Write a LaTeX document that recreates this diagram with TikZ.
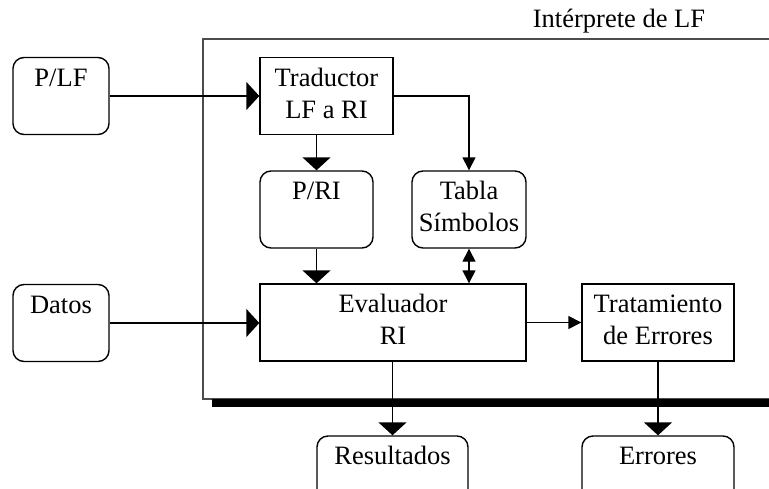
\documentclass[tikz,border=0pt]{standalone}
\usepackage{fontspec}
\setmainfont{Liberation Serif}
\usetikzlibrary{arrows.meta}
\begin{document}
\begin{tikzpicture}[x=1pt,y=-1pt,
  font=\fontsize{26.5}{32}\selectfont,
  box/.style={draw, line width=1.4pt, align=center, inner sep=0pt,
    minimum width=#1, minimum height=77pt},
  rbox/.style={box=#1, rounded corners=11pt},
  bigarrow/.style={line width=1.4pt, -{Triangle[length=13pt,width=28pt]}},
  smallarrow/.style={line width=1.4pt, -{Triangle[length=13pt,width=13pt]}},
  bothways/.style={line width=1.4pt,
    {Triangle[length=13pt,width=13pt]}-{Triangle[length=13pt,width=13pt]}},
  frame/.style={draw=black!70, line width=1.1pt}]
\useasboundingbox (0,0) rectangle (769,488);
\clip (0,0) rectangle (769,488);

% interpreter frame with its shadow bar
\draw[frame] (775,39) -- (203,39) -- (203,399) -- (775,399);
\fill[black] (212,398.5) rectangle (775,406.5);
\node[anchor=base] (title) at (619,27) {Intérprete de LF};

% blocks
\node[rbox=96pt]  (plf)   at (61,96)      {\strut P/LF\\\strut};
\node[box=133pt]  (trad)  at (326.5,96)   {\strut Traductor\\\strut LF a RI};
\node[rbox=113pt] (pri)   at (316.5,209.5){\strut P/RI\\\strut};
\node[rbox=114pt] (tabla) at (469,209.5)  {\strut Tabla\\\strut Símbolos};
\node[rbox=96pt]  (datos) at (61,323)     {\strut Datos\\\strut};
\node[box=266pt]  (eval)  at (393,322.5)  {\strut Evaluador\\\strut RI};
\node[box=152pt]  (trat)  at (658,322.5)  {\strut Tratamiento\\\strut de Errores};
\node[rbox=151pt] (res)   at (392.5,474.5){\strut Resultados\\\strut};
\node[rbox=152pt] (err)   at (658,474.5)  {\strut Errores\\\strut};

% connectors
\draw[bigarrow] (plf.east) -- (trad.west);
\draw[smallarrow] (trad.east) -| (tabla.north);
\draw[bigarrow] (pri.north |- trad.south) -- (pri.north);
\draw[bigarrow] (pri.south) -- (pri.south |- eval.north);
\draw[bothways] (tabla.south) -- (tabla.south |- eval.north);
\draw[bigarrow] (datos.east) -- (datos.east -| eval.west);
\draw[smallarrow] (eval.east) -- (trat.west);
\draw[bigarrow] (res.north |- eval.south) -- (res.north);
\draw[bigarrow] (trat.south) -- (err.north);
\end{tikzpicture}
\end{document}
